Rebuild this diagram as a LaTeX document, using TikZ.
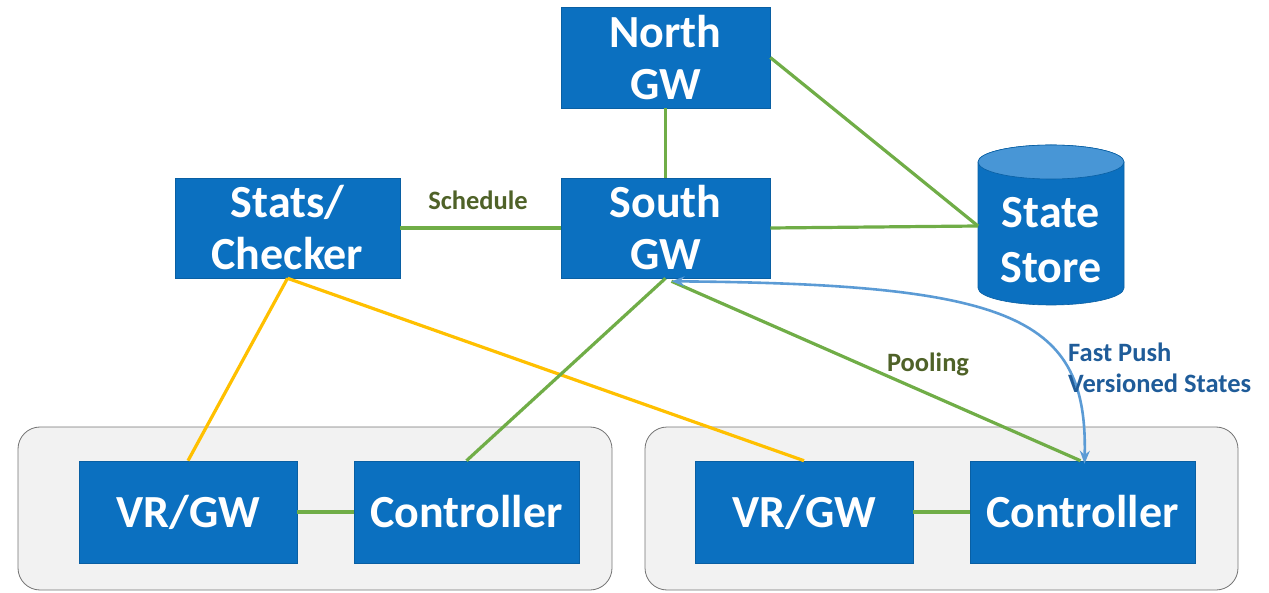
\documentclass[tikz,border=0pt]{standalone}
\usepackage{fontspec}
\setmainfont{Carlito}
\usetikzlibrary{arrows.meta}
\definecolor{boxblue}{RGB}{11,112,192}
\definecolor{topblue}{RGB}{72,150,214}
\definecolor{lgreen}{RGB}{112,173,71}
\definecolor{lyellow}{RGB}{255,192,0}
\definecolor{cblue}{RGB}{91,155,213}
\definecolor{dgreen}{RGB}{79,98,40}
\definecolor{dblue}{RGB}{31,92,153}
\definecolor{panelgray}{RGB}{242,242,242}
\begin{document}
\begin{tikzpicture}[x=1pt,y=-1pt,
  blk/.style={fill=boxblue,draw=boxblue!85!black,line width=0.6pt,text=white,
    font=\fontsize{46}{52}\selectfont\bfseries,align=center,inner sep=0pt},
  panel/.style={fill=panelgray,draw=black!55,line width=0.8pt,rounded corners=22pt},
  gline/.style={draw=lgreen,line width=3.2pt},
  yline/.style={draw=lyellow,line width=3.2pt},
  lbl/.style={font=\fontsize{26.5}{31}\selectfont\bfseries}
]
\useasboundingbox (0,0) rectangle (1269,593);
% panels
\draw[panel] (18,427) rectangle (612,590);
\draw[panel] (645,427) rectangle (1238,590);
% boxes
\node[blk,minimum width=209pt,minimum height=101pt] (north) at (665.5,57.5) {North\\GW};
\node[blk,minimum width=209pt,minimum height=100pt] (south) at (665.5,228) {South\\GW};
\node[blk,minimum width=225pt,minimum height=100pt] (stats) at (287.5,228) {Stats/\\Checker};
\node[blk,minimum width=218pt,minimum height=102pt] (vr1) at (188,512) {VR/GW};
\node[blk,minimum width=225pt,minimum height=102pt] (ctl1) at (466.5,512) {Controller};
\node[blk,minimum width=218pt,minimum height=102pt] (vr2) at (804,512) {VR/GW};
\node[blk,minimum width=225pt,minimum height=102pt] (ctl2) at (1082.5,512) {Controller};
% cylinder
\fill[boxblue,draw=boxblue!85!black,line width=0.6pt]
  (978,162) -- (978,288) arc[start angle=180,end angle=360,x radius=73,y radius=-17]
  -- (1124,162) arc[start angle=0,end angle=180,x radius=73,y radius=-17] -- cycle;
\fill[topblue,draw=boxblue!85!black,line width=0.6pt] (1051,162) ellipse[x radius=73,y radius=17];
\node[text=white,font=\fontsize{46}{55}\selectfont\bfseries,align=center,inner sep=0pt] (store) at (1051,240) {State\\Store};
\coordinate (storeW) at (978,226);
% connectors
\draw[gline] (north.south) -- (south.north);
\draw[gline] (north.east) -- (storeW);
\draw[gline] (south.east) -- (storeW);
\draw[gline] (stats.east) -- (south.west);
\draw[yline] (stats.south) -- (vr1.north);
\draw[yline] (stats.south) -- (vr2.north);
\draw[gline] (ctl1.north) -- (south.south);
\draw[gline] ([xshift=-2pt]ctl2.north) -- ([xshift=6pt,yshift=-3pt]south.south);
\draw[gline] (vr1.east) -- (ctl1.west);
\draw[gline] (vr2.east) -- (ctl2.west);
\coordinate (bs) at ([xshift=6pt,yshift=-3pt]south.south);
\coordinate (be) at ([xshift=2pt,yshift=-3pt]ctl2.north);
\draw[cblue,line width=2.6pt,{Stealth[length=13pt,width=10pt]}-{Stealth[length=13pt,width=10pt]}]
  (bs) .. controls (1015,284) and (1088,318) .. (be);
% labels
\node[lbl,text=dgreen] (sched) at (478,200) {Schedule};
\node[lbl,text=dgreen] (pool) at (928,364) {Pooling};
\node[lbl,text=dblue,align=left,anchor=west,inner sep=0pt] (fast) at (1068,368) {Fast Push\\Versioned States};
\end{tikzpicture}
\end{document}
